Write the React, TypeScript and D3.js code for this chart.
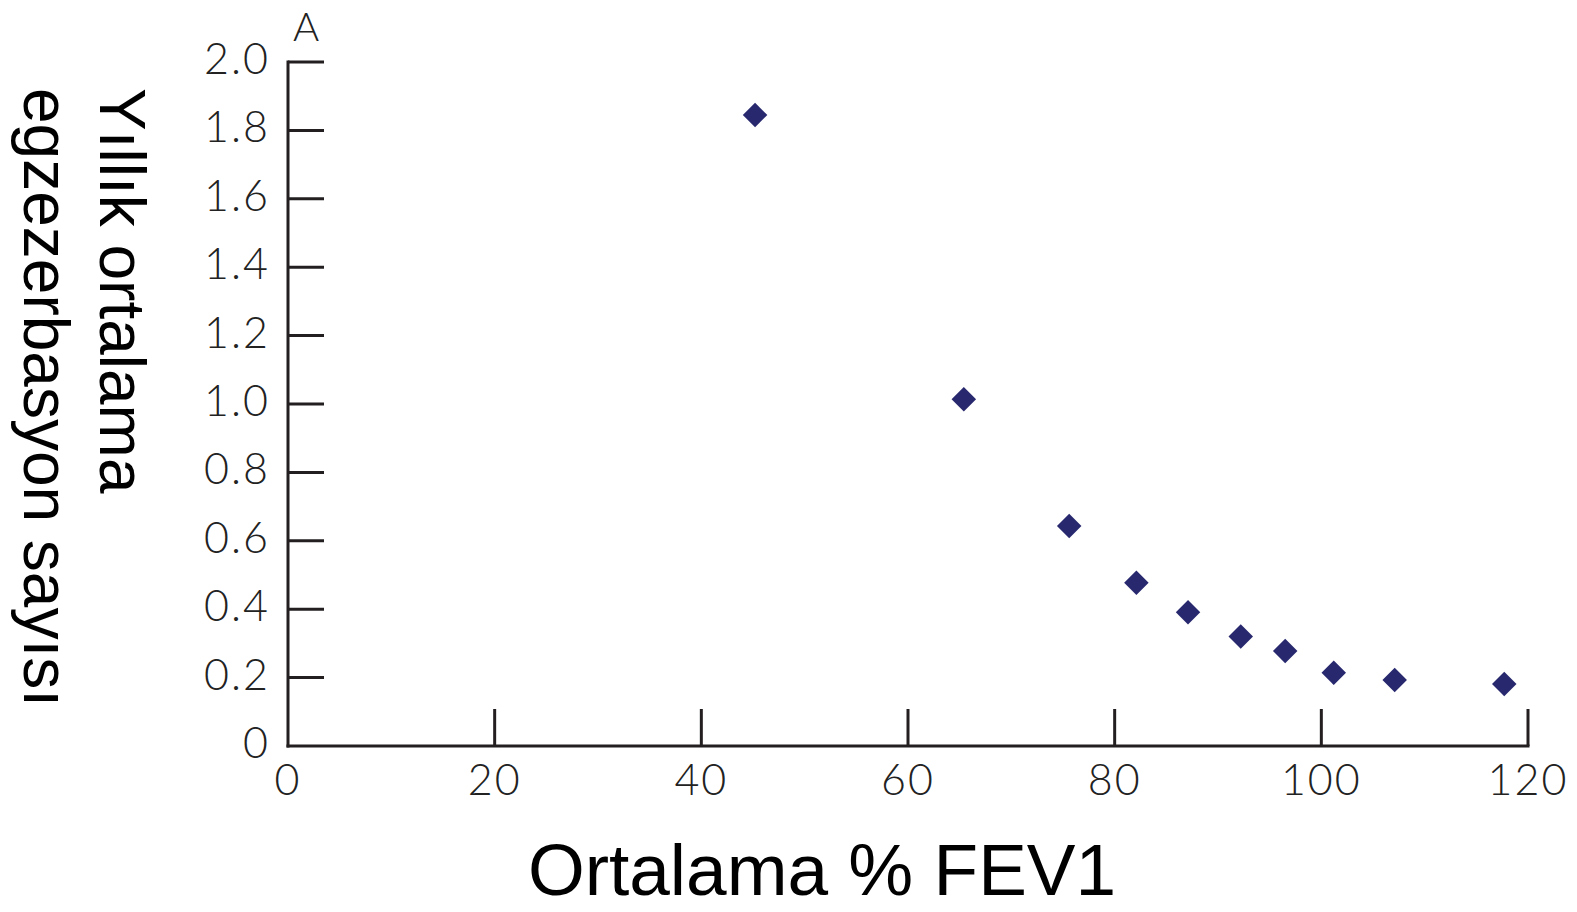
import React from "react";
import * as d3 from "d3";

// Mean % FEV1 against mean yearly exacerbations
const fev1 = [45.2, 65.4, 75.6, 82.1, 87.1, 92.2, 96.5, 101.2, 107.1, 117.7];
const exacerbations = [1.845, 1.014, 0.643, 0.477, 0.391, 0.32, 0.278, 0.214, 0.193, 0.181];

const xTicks = [0, 20, 40, 60, 80, 100, 120];
const yTicks = [0, 0.2, 0.4, 0.6, 0.8, 1.0, 1.2, 1.4, 1.6, 1.8, 2.0];

const panelLabel = "A";
const xTitle = "Ortalama % FEV1";
const yTitleLines = ["Yıllık ortalama", "egzezerbasyon sayısı"];

const W = 1577;
const H = 912;

export default function App() {
  const x = d3.scaleLinear().domain([0, 120]).range([288, 1528]);
  const y = d3.scaleLinear().domain([0, 2]).range([746, 62]);
  const diamond = d3.symbol().type(d3.symbolSquare).size(300)() as string;

  const axisColor = "#231f20";
  const tickFont = "Lato, 'DejaVu Sans', sans-serif";
  const titleFont = "'Liberation Sans', Arial, sans-serif";

  return (
    <svg
      width={W}
      height={H}
      viewBox={`0 0 ${W} ${H}`}
      style={{ position: "absolute", left: 0, top: 0, background: "#fff" }}
    >
      {/* axes */}
      <line x1={x(0)} x2={x(0)} y1={y(2)} y2={y(0)} stroke={axisColor} strokeWidth={3} strokeLinecap="square" />
      <line x1={x(0)} x2={x(120)} y1={y(0)} y2={y(0)} stroke={axisColor} strokeWidth={3} strokeLinecap="square" />

      {/* y ticks, pointing inward */}
      {yTicks.filter((t) => t > 0).map((t) => (
        <line key={`yt${t}`} x1={x(0)} x2={x(0) + 36} y1={y(t)} y2={y(t)} stroke={axisColor} strokeWidth={3} />
      ))}
      {yTicks.map((t) => (
        <text
          key={`yl${t}`}
          x={270}
          y={y(t) + 12}
          textAnchor="end"
          fontFamily={tickFont}
          fontWeight={300}
          fontSize={43}
          fill="#222"
          letterSpacing={2}
        >
          {t === 0 ? "0" : t.toFixed(1)}
        </text>
      ))}

      {/* x ticks, pointing up */}
      {xTicks.filter((t) => t > 0).map((t) => (
        <line key={`xt${t}`} x1={x(t)} x2={x(t)} y1={y(0)} y2={y(0) - 37} stroke={axisColor} strokeWidth={3} />
      ))}
      {xTicks.map((t) => (
        <text
          key={`xl${t}`}
          x={x(t)}
          y={795}
          textAnchor="middle"
          fontFamily={tickFont}
          fontWeight={300}
          fontSize={43}
          fill="#222"
          letterSpacing={2}
        >
          {t}
        </text>
      ))}

      {/* panel letter */}
      <text x={306} y={41} textAnchor="middle" fontFamily={tickFont} fontWeight={300} fontSize={40} fill="#222">
        {panelLabel}
      </text>

      {/* points */}
      {fev1.map((v, i) => (
        <path
          key={`p${i}`}
          d={diamond}
          transform={`translate(${x(v)},${y(exacerbations[i])}) rotate(45)`}
          fill="#28286f"
        />
      ))}

      {/* axis titles */}
      <text x={822} y={895} textAnchor="middle" fontFamily={titleFont} fontSize={73} fill="#000">
        {xTitle}
      </text>
      <text transform="translate(100,88) rotate(90)" fontFamily={titleFont} fontSize={64} fill="#000">
        {yTitleLines.map((line, i) => (
          <tspan key={line} x={0} y={i * 76}>
            {line}
          </tspan>
        ))}
      </text>
    </svg>
  );
}
